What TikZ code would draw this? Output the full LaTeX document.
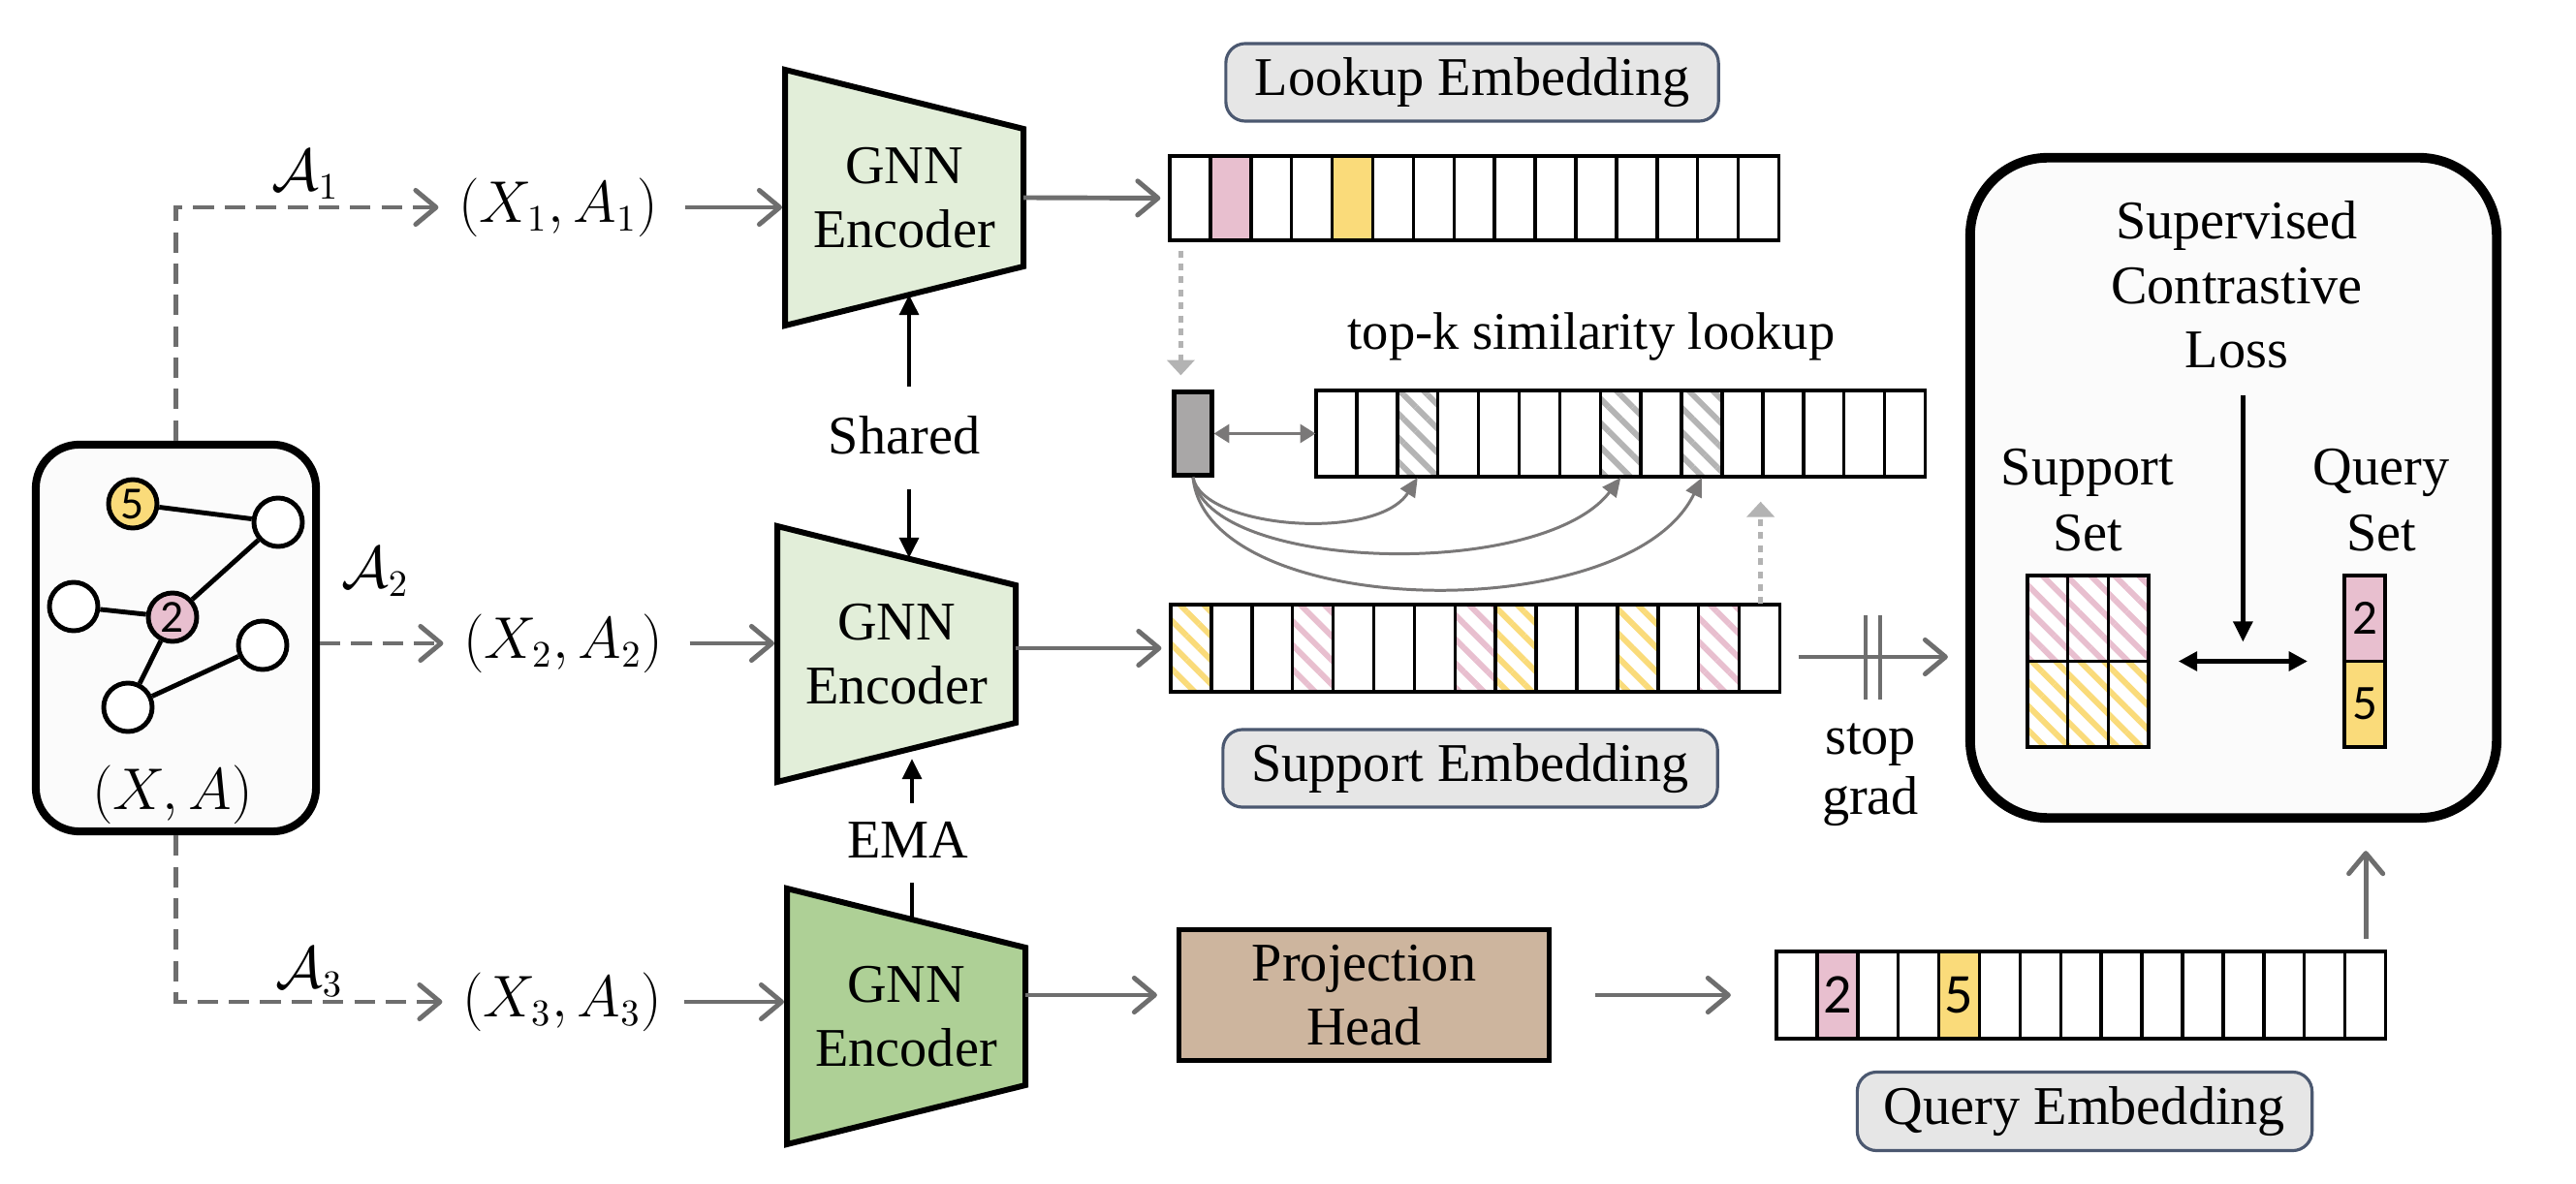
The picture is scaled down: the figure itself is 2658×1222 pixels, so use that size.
\documentclass[tikz,border=0pt]{standalone}
\usepackage{fontspec}
\setmainfont{Liberation Serif}
\newfontfamily\numfont{Carlito}
\usetikzlibrary{arrows.meta,patterns.meta,calc}
\definecolor{pinkc}{HTML}{E8BFCF}
\definecolor{yellowc}{HTML}{FADB7A}
\definecolor{hatchgray}{HTML}{B4B4B4}
\definecolor{encl}{HTML}{E2EED9}
\definecolor{encd}{HTML}{AED096}
\definecolor{tanc}{HTML}{CDB59E}
\definecolor{lblfill}{HTML}{E6E6E6}
\definecolor{lbldraw}{HTML}{4B5870}
\definecolor{smallgray}{HTML}{A9A7A7}
\definecolor{arrgray}{HTML}{6E6E6E}
\definecolor{curvegray}{HTML}{7A7878}
\definecolor{dotgray}{HTML}{B3B3B3}
\definecolor{boxfill}{HTML}{FBFBFB}
\newcommand\fs{\fontsize{16}{18.9}\selectfont}
\newcommand\gnnenc[4]{%
  \draw[encline, fill=#4] (#2,#3-132) -- (#2+246,#3-71) -- (#2+246,#3+71) -- (#2,#3+132) -- cycle;
  \node[align=center] (#1) at (#2+123,#3) {GNN\\Encoder};
  \coordinate (#1-l) at (#2,#3);
  \coordinate (#1-r) at (#2+246,#3);
}
\newcommand\embcells[3]{%
  \foreach \i in {1,...,15} {\draw[cellline] ({#1+(\i-1)*41.9},#2) rectangle ++(41.9,#3);}
}
\newcommand\hcell[4]{%
  \fill[pattern={Lines[angle=-45,distance=5pt,line width=1.7pt]},pattern color=#4] (#1,#2) rectangle ++(41.9,#3);
}
\begin{document}
\begin{tikzpicture}[x=0.01cm,y=-0.01cm,
 every node/.style={inner sep=0pt, font=\fs},
 grayarrow/.style={draw=arrgray, line width=1.4pt, -{Straight Barb[length=6pt,width=10pt,round]}},
 dasharrow/.style={grayarrow, dash pattern=on 6pt off 3.2pt},
 thinarrow/.style={draw=curvegray, line width=0.6pt, {Triangle[length=4.5pt,width=5.5pt]}-{Triangle[length=4.5pt,width=5.5pt]}},
 curvearrow/.style={draw=curvegray, line width=0.85pt, -{Triangle[length=5.5pt,width=5pt]}},
 dotarrow/.style={draw=dotgray, line width=1.4pt, dash pattern=on 2pt off 1.8pt, -{Triangle[length=4.5pt,width=8pt]}},
 blkarrow/.style={draw=black, line width=1.4pt, -{Triangle[length=6pt,width=5.5pt]}},
 blkdbl/.style={draw=black, line width=1.4pt, {Triangle[length=5.5pt,width=5.5pt]}-{Triangle[length=5.5pt,width=5.5pt]}},
 blkline/.style={draw=black, line width=1.4pt},
 encline/.style={draw=black, line width=1.7pt, line join=miter},
 cellline/.style={draw=black, line width=1pt},
 lbl/.style={draw=lbldraw, fill=lblfill, line width=0.9pt, rounded corners=0.2cm},
 gnode/.style={circle, draw=black, line width=1.4pt, fill=white, minimum size=0.5cm},
 gedge/.style={draw=black, line width=1.4pt},
 barline/.style={draw=arrgray, line width=1.2pt},
]
\fill[white] (0,0) rectangle (2658,1222);
\useasboundingbox (0,0) rectangle (2658,1222);

% ---------- input graph ----------
\node[draw=black, line width=2.3pt, fill=boxfill, rounded corners=0.45cm, minimum width=2.89cm, minimum height=3.99cm] (gbox) at (181.5,658.5) {};
\node[gnode, fill=yellowc] (n5) at (137,520) {\numfont\fontsize{13.5}{14}\selectfont 5};
\node[gnode] (ntr) at (287,539) {};
\node[gnode] (nl) at (76,626) {};
\node[gnode, fill=pinkc] (n2) at (178,637) {\numfont\fontsize{13.5}{14}\selectfont 2};
\node[gnode] (nr) at (271,666) {};
\node[gnode] (nb) at (132,730) {};
\draw[gedge] (n5) -- (ntr);
\draw[gedge] (ntr) -- (n2);
\draw[gedge] (nl) -- (n2);
\draw[gedge] (n2) -- (nb);
\draw[gedge] (nb) -- (nr);
\node (xa) at (178,820) {$(X,A)$};

% ---------- augmented views ----------
\node (xa1) at (576,214) {$(X_1,A_1)$};
\node (xa2) at (581,664) {$(X_2,A_2)$};
\node (xa3) at (580,1034) {$(X_3,A_3)$};
\node (a1) at (315,180) {$\mathcal{A}_1$};
\node (a2) at (387,590) {$\mathcal{A}_2$};
\node (a3) at (319,1003) {$\mathcal{A}_3$};
\draw[dasharrow, shorten >=0.2cm] (gbox.north) |- (xa1.west);
\draw[dasharrow, shorten >=0.2cm] (gbox.east |- xa2.west) -- (xa2.west);
\draw[dasharrow, shorten >=0.2cm] (gbox.south) |- (xa3.west);

% ---------- encoders ----------
\gnnenc{enc1}{810}{204}{encl}
\gnnenc{enc2}{802}{675}{encl}
\gnnenc{enc3}{812}{1049}{encd}
\draw[grayarrow, shorten <=0.27cm, shorten >=0.03cm] (xa1.east) -- (xa1.east -| enc1-l);
\draw[grayarrow, shorten <=0.27cm, shorten >=0.03cm] (xa2.east) -- (xa2.east -| enc2-l);
\draw[grayarrow, shorten <=0.22cm, shorten >=0.03cm] (xa3.east) -- (xa3.east -| enc3-l);

\coordinate (enc1b) at (938,304);
\coordinate (enc2t) at (938,576);
\coordinate (enc2b) at (941,773);
\coordinate (enc3t) at (941,949);
\node (shared) at (933,449) {Shared};
\node (ema) at (937,867) {EMA};
\draw[blkarrow, shorten <=0.29cm] (shared.north -| enc1b) -- (enc1b);
\draw[blkarrow, shorten <=0.35cm] (shared.south -| enc2t) -- (enc2t);
\draw[blkarrow, shorten <=0.19cm, shorten >=0.1cm] (ema.north -| enc2b) -- (enc2b);
\draw[blkline, shorten <=0.25cm] (ema.south -| enc3t) -- (enc3t);

% ---------- lookup embedding ----------
\node[lbl, minimum width=5.08cm, minimum height=0.8cm] (lookuplbl) at (1519,85) {Lookup Embedding};
\node[minimum width=6.285cm, minimum height=0.87cm] (lookup) at (1521.5,204.5) {};
\fill[pinkc] ({1207+1*41.9},161) rectangle ++(41.9,87);
\fill[yellowc] ({1207+4*41.9},161) rectangle ++(41.9,87);
\embcells{1207}{161}{87}
\draw[grayarrow, shorten >=0.09cm] (enc1-r) -- (lookup.west);

% ---------- top-k lookup ----------
\node (topklbl) at (1642,347) {\fontsize{15.5}{18}\selectfont top-k similarity lookup};
\node[draw=black, line width=1.2pt, fill=smallgray, minimum width=0.39cm, minimum height=0.86cm] (sbox) at (1231,447.5) {};
\node[minimum width=6.285cm, minimum height=0.89cm] (topk) at (1672.5,447.5) {};
\hcell{1358+2*41.9}{403}{89}{hatchgray}
\hcell{1358+7*41.9}{403}{89}{hatchgray}
\hcell{1358+9*41.9}{403}{89}{hatchgray}
\embcells{1358}{403}{89}
\draw[thinarrow] (sbox.east) -- (sbox.east -| topk.west);
\coordinate (t2) at ({1358+2.5*41.9},493);
\coordinate (t7) at ({1358+7.5*41.9},493);
\coordinate (t9) at ({1358+9.5*41.9},493);
\draw[curvearrow] (sbox.south) .. controls (1240,545) and (1420,560) .. (t2);
\draw[curvearrow] (sbox.south) .. controls (1245,590) and (1590,600) .. (t7);
\draw[curvearrow] (sbox.south) .. controls (1245,640) and (1680,650) .. (t9);
\draw[dotarrow, shorten <=0.1cm, shorten >=0.15cm] ([xshift=0.12cm]lookup.south west) -- ([xshift=0.12cm]lookup.south west |- sbox.north);

% ---------- support embedding ----------
\node[minimum width=6.285cm, minimum height=0.9cm] (support) at (1522.5,669) {};
\hcell{1208+0*41.9}{624}{90}{yellowc}
\hcell{1208+3*41.9}{624}{90}{pinkc}
\hcell{1208+7*41.9}{624}{90}{pinkc}
\hcell{1208+8*41.9}{624}{90}{yellowc}
\hcell{1208+11*41.9}{624}{90}{yellowc}
\hcell{1208+13*41.9}{624}{90}{pinkc}
\embcells{1208}{624}{90}
\draw[grayarrow, shorten >=0.09cm] (enc2-r |- support.west) -- (support.west);
\draw[dotarrow, shorten >=0.25cm] ([xshift=-0.21cm]support.north east) -- ([xshift=-0.21cm]support.north east |- topk.south);
\node[lbl, minimum width=5.1cm, minimum height=0.8cm] (supportlbl) at (1517,793) {Support Embedding};

% ---------- loss box ----------
\node[draw=black, line width=2.8pt, fill=boxfill, rounded corners=0.8cm, minimum width=5.43cm, minimum height=6.81cm] (bigbox) at (2304.5,503.5) {};
\node[align=center] (scl) at (2308,294) {Supervised\\Contrastive\\Loss};
\node[align=center, font=\fontsize{16}{19.5}\selectfont] (suplbl) at (2154,516) {Support\\Set};
\node[align=center, font=\fontsize{16}{19.5}\selectfont] (querylbl) at (2457,516) {Query\\Set};
\node[minimum width=1.25cm, minimum height=1.77cm] (sgrid) at (2154.5,682.5) {};
\foreach \c in {0,1,2} {
  \fill[white] ({2092+\c*41.7},594) rectangle ++(41.7,177);
  \fill[pattern={Lines[angle=-45,distance=5pt,line width=1.7pt]},pattern color=pinkc] ({2092+\c*41.7},594) rectangle ++(41.7,88.5);
  \fill[pattern={Lines[angle=-45,distance=5pt,line width=1.7pt]},pattern color=yellowc] ({2092+\c*41.7},682.5) rectangle ++(41.7,88.5);
  \draw[cellline] ({2092+\c*41.7},594) rectangle ++(41.7,88.5);
  \draw[cellline] ({2092+\c*41.7},682.5) rectangle ++(41.7,88.5);
}
\node[draw=black, line width=1pt, fill=pinkc, minimum width=0.42cm, minimum height=0.885cm] (q2) at (2440,638.25) {\numfont\fontsize{14.5}{15}\selectfont 2};
\node[draw=black, line width=1pt, fill=yellowc, minimum width=0.42cm, minimum height=0.885cm] (q5) at (2440,726.75) {\numfont\fontsize{14.5}{15}\selectfont 5};
\coordinate (qset) at (2419,682.5);
\coordinate (mid) at ($(sgrid.east)!0.48!(qset)$);
\draw[blkdbl, shorten <=0.3cm, shorten >=0.38cm] (sgrid.east) -- (qset);
\draw[blkarrow, shorten <=0.27cm, shorten >=0.2cm] (scl.south -| mid) -- (mid);

% ---------- stop grad ----------
\coordinate (sg1) at ([yshift=-0.09cm]support.east);
\draw[grayarrow, shorten <=0.18cm, shorten >=0.18cm] (sg1) -- (sg1 -| bigbox.west);
\draw[barline] ([xshift=0.87cm,yshift=0.43cm]sg1) -- ([xshift=0.87cm,yshift=-0.44cm]sg1);
\draw[barline] ([xshift=1.02cm,yshift=0.43cm]sg1) -- ([xshift=1.02cm,yshift=-0.44cm]sg1);
\node[align=center, font=\fontsize{16}{17.6}\selectfont] (stopgrad) at (1930,800) {stop\\grad};

% ---------- projection + query ----------
\node[draw=black, line width=1.4pt, fill=tanc, minimum width=3.82cm, minimum height=1.35cm, align=center] (proj) at (1407.5,1027) {Projection\\Head};
\draw[grayarrow, shorten >=0.2cm] (enc3-r |- proj.west) -- (proj.west);
\node[minimum width=6.285cm, minimum height=0.9cm] (query) at (2147,1027) {};
\fill[pinkc] ({1833+1*41.9},982) rectangle ++(41.9,90);
\fill[yellowc] ({1833+4*41.9},982) rectangle ++(41.9,90);
\embcells{1833}{982}{90}
\node (qr2) at ({1833+1.5*41.9},1027) {\numfont\fontsize{16.5}{17}\selectfont 2};
\node (qr5) at ({1833+4.5*41.9},1027) {\numfont\fontsize{16.5}{17}\selectfont 5};
\draw[grayarrow, shorten <=0.45cm, shorten >=0.46cm] (proj.east) -- (query.west);
\draw[grayarrow, shorten <=0.12cm, shorten >=0.29cm] ([xshift=-0.21cm]query.north east) -- ([xshift=-0.21cm]query.north east |- bigbox.south);
\node[lbl, minimum width=4.69cm, minimum height=0.81cm] (querylbl2) at (2151,1147) {Query Embedding};
\end{tikzpicture}
\end{document}
